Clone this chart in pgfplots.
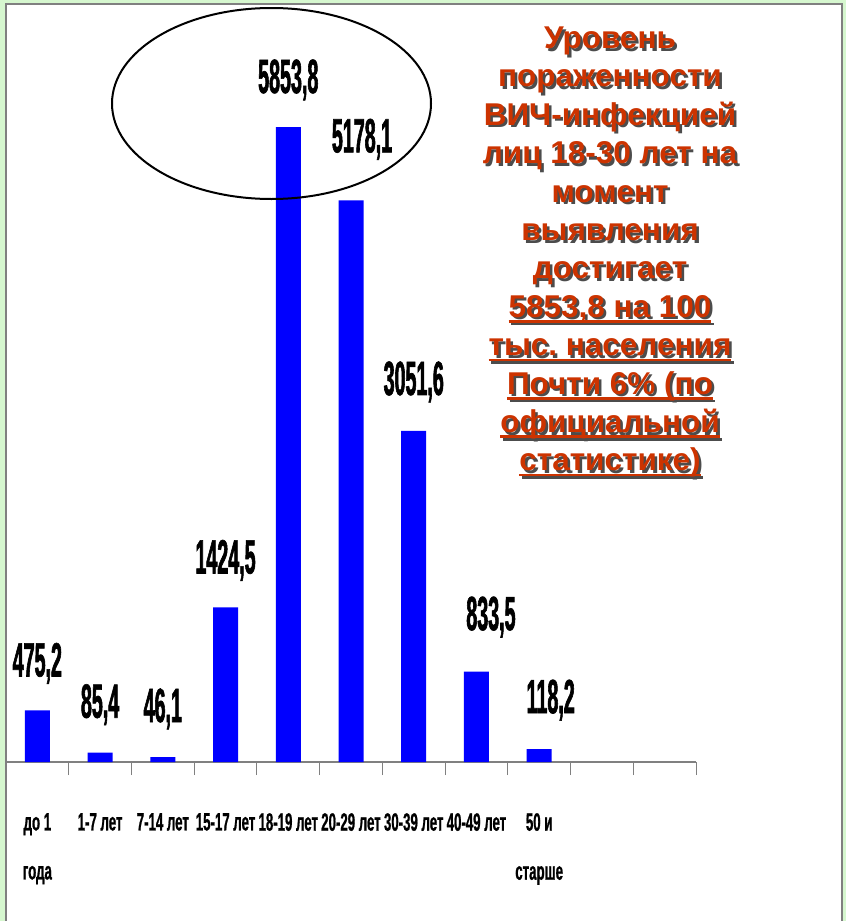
\documentclass[border=0pt]{standalone}
\usepackage{fontspec}
\usepackage{pgfplots}
\usepackage{pgfplotstable}
\pgfplotsset{compat=1.18}
\setmainfont{Liberation Sans}
\newfontfamily\valfont[FakeStretch=0.41,FakeBold=1.2]{Liberation Sans}
\newfontfamily\tickfont[FakeStretch=0.53,FakeBold=0.8]{Liberation Sans}
\definecolor{bgreen}{RGB}{214,247,207}
\definecolor{annred}{RGB}{204,51,0}
\definecolor{axgray}{RGB}{128,128,128}
\pgfplotstableread{
x y lbl dx dy
0 475.2 475,2 0 34
1 85.4 85,4 0 35
2 46.1 46,1 0 35
3 1424.5 1424,5 0 34
4 5853.8 5853,8 0 34
5 5178.1 5178,1 11 48
6 3051.6 3051,6 0 36
7 833.5 833,5 14.5 41.5
8 118.2 118,2 11.5 36
}\datatable
\newcommand\ul[1]{\setbox0\hbox{#1}\rlap{\rule[-5.5bp]{\wd0}{2.6bp}}\box0}
\frenchspacing
\begin{document}
\begin{tikzpicture}
\useasboundingbox (0,0) rectangle (846bp,-921bp);
\fill[bgreen] (0,0) rectangle (846bp,-921bp);
\filldraw[fill=white, draw=axgray, line width=2bp] (6bp,-4bp) rectangle (842bp,-930bp);
\begin{axis}[
  at={(6bp,-762bp)}, anchor=south west,
  scale only axis, width=690bp, height=759bp,
  xmin=-0.5, xmax=10.5, ymin=0, ymax=6997,
  axis x line*=bottom, axis y line=none,
  x axis line style={axgray, line width=1.8bp, -},
  clip=false,
  xtick={0,...,8},
  xticklabels={{до 1\\года},{1-7 лет},{7-14 лет},{15-17 лет},{18-19 лет},{20-29 лет},{30-39 лет},{40-49 лет},{50 и\\старше}},
  minor xtick={-0.5,0.5,...,10.5},
  major tick length=0pt, minor tick length=13bp, tick align=outside,
  minor tick style={axgray, line width=1bp},
  xticklabel style={font=\tickfont\bfseries\fontsize{25bp}{49bp}\selectfont, align=center, anchor=north, inner sep=0pt, yshift=-51bp},
]
\addplot[ybar, bar width=25bp, fill=blue, draw=none,
  nodes near coords, point meta=explicit symbolic,
  visualization depends on={\thisrow{dx}\as\labdx},
  visualization depends on={\thisrow{dy}\as\labdy},
  nodes near coords style={font=\valfont\bfseries\fontsize{48bp}{48bp}\selectfont, anchor=base, inner sep=0pt, xshift=\labdx bp, yshift=\labdy bp, text=black},
] table[x=x,y=y,meta=lbl]{\datatable};
\end{axis}
\draw[black, line width=2bp] (271.5bp,-103.5bp) ellipse [x radius=159.5bp, y radius=95.5bp];
\foreach \t [count=\i] in {Уровень, пораженности, ВИЧ-инфекцией, лиц 18-30 лет на, момент, выявления, достигает, {\ul{5853,8 на 100}}, {\ul{тыс. населения}}, {\ul{Почти 6\% (по}}, {\ul{официальной}}, {\ul{статистике)}}}{
  \pgfmathsetmacro{\yy}{-48.5-38.4*(\i-1)}
  \node[anchor=base, inner sep=0pt, text=black!70, font=\bfseries\fontsize{31.5bp}{36bp}\selectfont] at (612.5bp,\yy bp-2.5bp) {\t};
  \node[anchor=base, inner sep=0pt, text=annred, font=\bfseries\fontsize{31.5bp}{36bp}\selectfont] at (610bp,\yy bp) {\t};
}
\end{tikzpicture}
\end{document}
